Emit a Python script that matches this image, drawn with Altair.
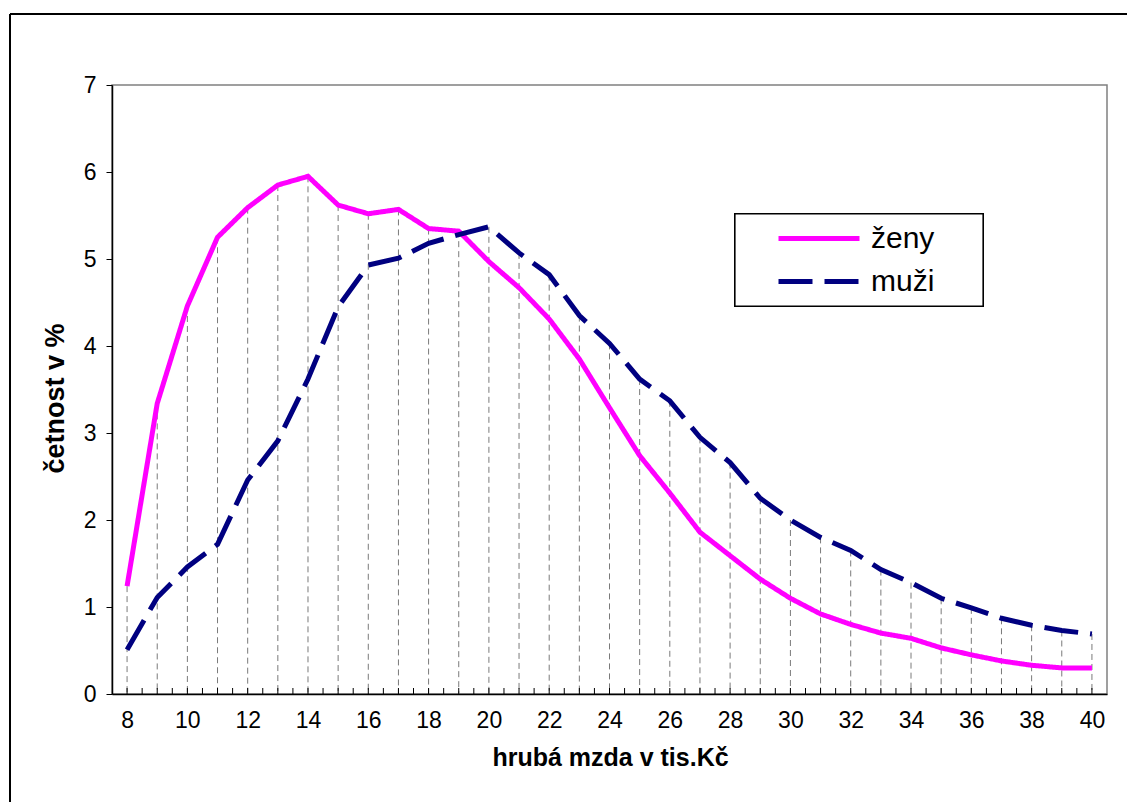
import altair as alt
import pandas as pd

# --- data ---
wage = list(range(8, 41))  # hrubá mzda v tis. Kč
zeny = [1.24, 3.34, 4.46, 5.25, 5.59, 5.85, 5.95, 5.62, 5.52, 5.57, 5.35, 5.32,
        4.97, 4.67, 4.31, 3.85, 3.29, 2.74, 2.31, 1.86, 1.59, 1.32, 1.10, 0.92,
        0.80, 0.70, 0.64, 0.53, 0.45, 0.38, 0.33, 0.30, 0.30]
muzi = [0.51, 1.11, 1.46, 1.72, 2.46, 2.91, 3.62, 4.45, 4.93, 5.01, 5.18, 5.28,
        5.37, 5.07, 4.82, 4.35, 4.03, 3.62, 3.37, 2.95, 2.66, 2.25, 2.00, 1.80,
        1.65, 1.43, 1.28, 1.10, 0.99, 0.87, 0.79, 0.73, 0.69]
series_names = ["ženy", "muži"]
x_label_values = list(range(8, 41, 2))
x_tick_values = [v / 2 for v in range(16, 81)]
y_values = list(range(0, 8))

FONT = "Liberation Sans"

wide = pd.DataFrame({"x": wage, "zeny": zeny, "muzi": muzi})
wide["top"] = wide[["zeny", "muzi"]].max(axis=1)

long = pd.concat([
    pd.DataFrame({"x": wage, "v": zeny, "s": series_names[0]}),
    pd.DataFrame({"x": wage, "v": muzi, "s": series_names[1]}),
])
ticks = pd.DataFrame({"t": x_tick_values})

xscale = alt.Scale(domain=[7.5, 40.5], nice=False, zero=False)
yscale = alt.Scale(domain=[0, 7], nice=False)


def yaxis():
    return alt.Axis(
        values=y_values, tickSize=6, labelPadding=10, labelFontSize=23,
        labelFont=FONT, labelColor="black", grid=False, domainColor="black",
        domainWidth=1.5, tickColor="black",
        title="četnost v %", titleFont=FONT, titleFontSize=27,
        titleFontWeight="bold", titleColor="black", titleAngle=270,
        titleX=-49, titleY=313, titleBaseline="alphabetic",
        titleAlign="center")


def xaxis():
    return alt.Axis(
        orient="bottom", values=x_label_values, tickSize=0, labelPadding=15,
        labelFontSize=23, labelFont=FONT, labelColor="black", grid=False,
        domainColor="black", domainWidth=1.5,
        title="hrubá mzda v tis.Kč", titleFont=FONT, titleFontSize=25,
        titleFontWeight="bold", titleColor="black", titleX=498, titleY=71,
        titleBaseline="alphabetic", titleAnchor="middle", titleAlign="center")


drops = alt.Chart(wide).mark_rule(color="#7a7a7a", strokeWidth=1, strokeDash=[6, 4]).encode(
    x=alt.X("x:Q", scale=xscale, axis=xaxis()),
    y=alt.Y("top:Q", scale=yscale, axis=yaxis()),
    y2=alt.datum(0),
)

# inward tick marks on the category axis (every half category)
tick_marks = alt.Chart(ticks).mark_rule(color="black", strokeWidth=1).encode(
    x=alt.X("t:Q", scale=xscale, axis=xaxis()),
    y=alt.value(603), y2=alt.value(609),
)

leg = dict(
    orient="none", legendX=623, legendY=129, title=None,
    symbolType="stroke", symbolSize=6561, symbolStrokeWidth=5,
    labelFontSize=30, labelFont=FONT, labelColor="black",
    clipHeight=43, rowPadding=0, padding=3,
    symbolOffset=38, labelOffset=9)

lines = alt.Chart(long).mark_line(strokeWidth=5, strokeCap="butt", strokeJoin="miter").encode(
    x=alt.X("x:Q", scale=xscale, axis=xaxis()),
    y=alt.Y("v:Q", scale=yscale, axis=yaxis()),
    color=alt.Color("s:N", scale=alt.Scale(domain=series_names, range=["#FF00FF", "#000080"]),
                    legend=alt.Legend(**leg)),
    strokeDash=alt.StrokeDash("s:N", scale=alt.Scale(domain=series_names, range=[[1, 0], [34, 12]]),
                              legend=alt.Legend(**leg)),
    order=alt.Order("x:Q"),
)

# legend frame (decoration) behind the legend entries
legend_box = alt.Chart(wide).mark_rect(fill="white", stroke="black", strokeWidth=1.2).encode(
    x=alt.value(623), x2=alt.value(871), y=alt.value(129), y2=alt.value(221))

frame_left = alt.Chart(wide).mark_rule(color="black", strokeWidth=1.5).encode(
    x=alt.value(-102), y=alt.value(-71), y2=alt.value(717))
frame_top = alt.Chart(wide).mark_rule(color="black", strokeWidth=1.5).encode(
    x=alt.value(-102), x2=alt.value(1015), y=alt.value(-71))

chart = alt.layer(drops, tick_marks, lines, legend_box, frame_left, frame_top).properties(
    width=995, height=609,
    padding={"left": 112, "top": 85, "right": 20, "bottom": 108},
    autosize="none",
    background="white",
).configure_view(stroke="#808080", strokeWidth=1.5)

chart.save("out.html", embed_options={"renderer": "svg", "actions": False})
